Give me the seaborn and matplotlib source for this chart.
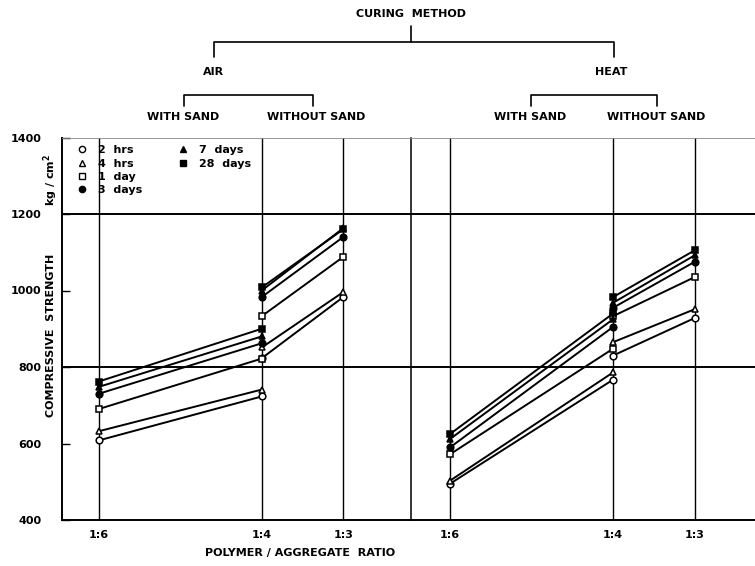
import matplotlib
matplotlib.use('Agg')
import matplotlib.pyplot as plt
from matplotlib.lines import Line2D
import seaborn as sns

# data (kg/cm2)
ages = ['2  hrs', '4  hrs', '1  day', '3  days', '7  days', '28  days']
markers = ['o', '^', 's', 'o', '^', 's']
filled = [False, False, False, True, True, True]

with_sand_ratio = [6, 4]      # 1:6 -> 1:4
without_sand_ratio = [4, 3]   # 1:4 -> 1:3
tick_ratio = [6, 4, 3]
tick_labels = ['1:6', '1:4', '1:3']

air_with_sand = [[608, 723], [632, 741], [690, 822], [730, 862], [748, 880], [762, 900]]
air_without_sand = [[823, 983], [851, 996], [933, 1088], [983, 1140], [1000, 1163], [1008, 1160]]
heat_with_sand = [[495, 767], [503, 786], [572, 848], [590, 905], [612, 925], [625, 940]]
heat_without_sand = [[830, 928], [865, 951], [933, 1035], [955, 1075], [968, 1092], [983, 1105]]

sns.set_style('white')
plt.rcParams['font.family'] = ['DejaVu Sans']
plt.rcParams['font.weight'] = 'bold'
for k in ['text.color', 'axes.labelcolor', 'xtick.color', 'ytick.color']:
    plt.rcParams[k] = 'black'

W, H = 755, 566
fig = plt.figure(figsize=(W / 100, H / 100), dpi=100)


def px_box(x0, x1, ytop, ybot):
    return [x0 / W, 1 - ybot / H, (x1 - x0) / W, (ybot - ytop) / H]


ax1 = fig.add_axes(px_box(62, 411, 137.5, 520))
ax2 = fig.add_axes(px_box(411, 755, 137.5, 520), sharey=ax1)
ax2.patch.set_alpha(0)  # keep the divider (ax1 right spine) fully visible


def draw_panel(ax, with_sand, without_sand):
    for i in range(len(ages)):
        fc = 'black' if filled[i] else 'white'
        for xs, ys in [(with_sand_ratio, with_sand[i]), (without_sand_ratio, without_sand[i])]:
            sns.lineplot(x=xs, y=ys, ax=ax, color='black', lw=1.4, marker=markers[i],
                         markersize=4.8, markerfacecolor=fc, markeredgecolor='black',
                         markeredgewidth=1.1, zorder=3)
    for r in tick_ratio:
        ax.axvline(r, color='black', lw=1.0, zorder=1)
    for v in [800, 1200]:
        ax.axhline(v, color='black', lw=1.4, zorder=1)
    ax.set_xticks(tick_ratio)
    ax.set_xticklabels(tick_labels, fontsize=8, fontweight='bold')
    ax.tick_params(axis='x', length=0, pad=7)
    ax.set_xlabel('')
    ax.set_ylabel('')


draw_panel(ax1, air_with_sand, air_without_sand)
draw_panel(ax2, heat_with_sand, heat_without_sand)

ax1.set_xlim(6.45, 2.17)
ax2.set_xlim(6.48, 2.26)
ax1.set_ylim(400, 1400)
ax1.set_yticks([400, 600, 800, 1000, 1200, 1400])
ax1.tick_params(axis='y', direction='in', length=6, width=1.0, labelsize=8, pad=15, left=True)
ax2.tick_params(axis='y', left=False, labelleft=False)

for ax in (ax1, ax2):
    for s in ax.spines.values():
        s.set_color('black')
    ax.spines['bottom'].set_linewidth(1.4)
    ax.spines['top'].set_linewidth(0.6)
    ax.spines['top'].set_color('#888888')
ax1.spines['left'].set_linewidth(1.4)
ax1.spines['right'].set_linewidth(1.1)
ax2.spines['left'].set_visible(False)
ax2.spines['right'].set_visible(False)

# legend (markers only), 4 rows in first column, 2 in second
handles = []
labels = []
order = [0, 1, 2, 3, 4, 5, None, None]
for i in order:
    if i is None:
        handles.append(Line2D([], [], linestyle='none'))
        labels.append('')
    else:
        fc = 'black' if filled[i] else 'white'
        handles.append(Line2D([], [], linestyle='none', marker=markers[i], markersize=4.5,
                              markerfacecolor=fc, markeredgecolor='black'))
        labels.append(ages[i])
ax1.legend(handles, labels, ncol=2, loc='upper left', bbox_to_anchor=(0.02, 1.0),
           frameon=False, fontsize=8, handlelength=1.0, handletextpad=0.9,
           labelspacing=0.3, columnspacing=3.2, borderaxespad=0.3)

# axis titles
fig.text(51 / W, 1 - 335 / H, 'COMPRESSIVE  STRENGTH', rotation=90, ha='center', va='center',
         fontsize=8, fontweight='bold')
fig.text(51 / W, 1 - 180 / H, 'kg / cm$^2$', rotation=90, ha='center', va='center',
         fontsize=8, fontweight='bold')
fig.text(300 / W, 1 - 553 / H, 'POLYMER / AGGREGATE  RATIO', ha='center', va='center',
         fontsize=8, fontweight='bold')

# curing method tree above the plot
def tline(xs, ys):
    fig.add_artist(Line2D([x / W for x in xs], [1 - y / H for y in ys], color='black', lw=1.2))


def ttext(x, y, s):
    fig.text(x / W, 1 - y / H, s, ha='center', va='center', fontsize=8, fontweight='bold')


ttext(411, 14, 'CURING  METHOD')
tline([411, 411], [26, 42])
tline([214, 214, 614, 614], [57, 42, 42, 57])
ttext(213, 72, 'AIR')
ttext(611, 72, 'HEAT')
tline([184, 184, 313, 313], [106, 95, 95, 106])
tline([531, 531, 657, 657], [106, 95, 95, 106])
ttext(183, 117, 'WITH SAND')
ttext(316, 117, 'WITHOUT SAND')
ttext(530, 117, 'WITH SAND')
ttext(656, 117, 'WITHOUT SAND')

fig.savefig('out.png', dpi=100)
